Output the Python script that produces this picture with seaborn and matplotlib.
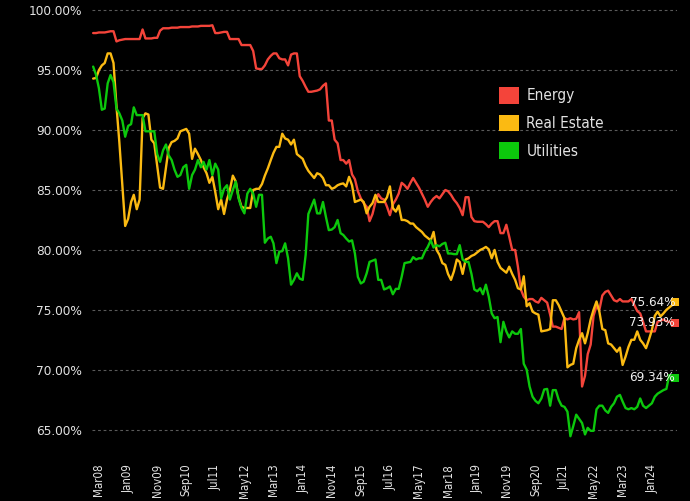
import numpy as np
import pandas as pd
import matplotlib
matplotlib.use("Agg")
import matplotlib.pyplot as plt
import seaborn as sns
from matplotlib.patches import Patch
from matplotlib.ticker import FuncFormatter
from matplotlib import font_manager as fm

# ---------------- data (monthly, Jan 2008 - Sep 2024) ----------------
start_month = "2008-01-01"
sectors = ["Energy", "Real Estate", "Utilities"]
colors = ["#F4443A", "#FBBA12", "#0CC80C"]

energy = [
    98.1, 98.1, 98.15, 98.15, 98.15, 98.2, 98.25, 98.25, 97.4, 97.5,
    97.55, 97.6, 97.6, 97.6, 97.6, 97.6, 97.6, 98.4, 97.65, 97.65,
    97.65, 97.7, 97.7, 98.3, 98.5, 98.5, 98.5, 98.55, 98.55, 98.55,
    98.6, 98.6, 98.6, 98.6, 98.65, 98.65, 98.65, 98.7, 98.7, 98.7,
    98.7, 98.75, 98.1, 98.1, 98.15, 98.2, 98.2, 97.6, 97.6, 97.6,
    97.6, 97.1, 97.1, 97.1, 97.1, 96.6, 95.15, 95.1, 95.1, 95.4,
    95.9, 96.2, 96.4, 96.4, 96.0, 95.9, 95.9, 95.4, 96.3, 96.4,
    96.4, 94.5, 94.1, 93.6, 93.2, 93.2, 93.25, 93.3, 93.4, 93.7,
    93.9, 90.8, 90.8, 89.2, 88.9, 87.5, 87.5, 87.2, 87.5, 86.3,
    85.9, 84.9, 84.3, 83.9, 83.6, 82.4, 83.0, 84.0, 84.65, 84.3,
    84.2, 83.6, 82.9, 83.8, 84.2, 84.7, 85.6, 85.4, 85.1, 85.6,
    86.0, 85.6, 85.2, 84.7, 84.2, 83.6, 84.0, 84.3, 84.5, 84.3,
    84.65, 85.0, 84.9, 84.6, 84.2, 83.9, 83.5, 82.9, 84.4, 84.4,
    82.75, 82.4, 82.35, 82.35, 82.35, 82.15, 81.9, 82.2, 82.4, 82.4,
    81.4, 81.4, 82.1, 81.1, 80.0, 80.0, 78.6, 76.7, 76.1, 75.8,
    75.9, 75.9, 75.7, 75.6, 76.0, 75.8, 75.6, 74.6, 73.6, 73.6,
    73.5, 73.4, 74.3, 74.2, 74.3, 74.2, 74.25, 74.8, 68.6, 69.5,
    71.3, 72.1, 74.5, 75.3, 75.0, 76.2, 76.5, 76.6, 76.2, 75.8,
    75.7, 75.9, 75.7, 75.7, 75.7, 75.9, 75.4, 74.9, 74.7, 74.0,
    73.2, 73.2, 73.2, 73.2, 74.0, 74.1, 74.2, 74.05, 74.0, 73.9, 73.93,
]

real_estate = [
    94.3, 94.35, 95.0, 95.4, 95.6, 96.4, 96.4, 95.6, 92.0, 89.0,
    85.5, 82.0, 82.6, 84.0, 84.6, 83.4, 84.2, 91.0, 91.4, 91.3,
    89.2, 88.9, 87.0, 85.2, 85.1, 86.9, 88.5, 89.0, 89.1, 89.3,
    89.9, 90.0, 90.1, 89.7, 87.6, 88.45, 88.0, 87.5, 86.9, 86.4,
    85.6, 86.1, 84.85, 83.4, 84.2, 83.0, 84.2, 85.0, 86.2, 85.7,
    84.4, 83.6, 83.5, 83.5, 83.5, 85.0, 85.1, 85.1, 85.5, 86.2,
    86.8, 87.5, 88.1, 88.6, 88.6, 89.7, 89.3, 89.2, 88.8, 89.2,
    88.0, 87.8, 87.6, 87.0, 86.6, 86.3, 86.0, 86.4, 86.3, 86.0,
    85.4, 85.4, 85.1, 85.2, 85.4, 85.5, 85.55, 85.3, 86.1, 85.4,
    84.0, 84.1, 84.2, 84.0, 83.05, 83.6, 83.9, 84.6, 84.0, 84.0,
    84.0, 84.4, 85.3, 83.5, 83.2, 83.7, 82.5, 82.5, 82.4, 82.2,
    82.2, 81.9, 81.7, 81.5, 81.2, 81.0, 80.8, 81.5, 80.0, 79.6,
    78.9, 78.75, 78.0, 77.5, 78.2, 79.2, 79.0, 78.0, 79.2, 79.3,
    79.5, 79.6, 79.8, 80.0, 80.1, 80.25, 80.05, 79.3, 80.0, 79.0,
    78.5, 78.3, 78.1, 78.6, 78.0, 77.5, 76.8, 76.7, 77.8, 75.3,
    75.55, 74.85, 74.7, 74.6, 73.2, 73.25, 73.3, 73.4, 75.8, 75.8,
    75.4, 74.85, 74.3, 70.2, 70.4, 70.5, 71.8, 72.5, 73.05, 72.2,
    73.05, 74.2, 75.0, 75.7, 74.85, 73.4, 73.3, 72.2, 72.1, 71.8,
    71.5, 71.85, 70.4, 71.1, 71.9, 72.5, 72.5, 73.2, 72.5, 72.2,
    71.8, 72.5, 73.3, 74.5, 74.85, 74.45, 74.7, 75.0, 75.2, 75.4, 75.64,
]

utilities = [
    95.3, 94.6, 93.5, 91.7, 91.8, 93.9, 94.6, 94.0, 91.8, 91.4,
    90.8, 89.45, 90.35, 90.5, 91.9, 91.25, 91.25, 91.25, 89.9, 89.9,
    89.9, 89.9, 88.0, 87.35, 88.3, 88.8, 87.9, 87.5, 86.7, 86.1,
    86.25, 86.9, 87.1, 85.1, 86.25, 86.7, 87.5, 86.9, 87.35, 86.7,
    87.5, 86.25, 87.2, 86.7, 84.3, 85.1, 85.4, 84.2, 85.0, 85.7,
    84.3, 83.5, 83.05, 84.7, 85.1, 84.7, 83.6, 84.6, 84.6, 80.6,
    80.95, 81.1, 80.55, 78.9, 79.85, 79.9, 80.55, 79.3, 77.1, 77.5,
    78.05, 77.6, 77.5, 79.6, 83.0, 83.6, 84.2, 83.05, 83.05, 84.0,
    82.75, 81.65, 81.7, 81.9, 82.5, 81.4, 81.25, 80.95, 80.7, 80.8,
    79.7, 77.75, 77.2, 77.35, 78.05, 79.0, 79.1, 79.2, 77.5, 77.5,
    76.7, 76.8, 76.95, 76.3, 76.75, 76.75, 77.75, 78.9, 78.95, 79.0,
    79.4, 79.2, 79.3, 79.3, 79.85, 80.25, 80.8, 80.2, 80.4, 80.3,
    80.5, 80.6, 79.7, 79.7, 79.65, 79.65, 80.4, 79.2, 79.0, 79.0,
    78.0, 76.7, 76.55, 76.8, 76.3, 77.1, 76.1, 74.7, 74.3, 74.4,
    72.3, 74.0, 73.2, 72.7, 73.2, 73.0, 73.0, 73.4, 70.5, 70.0,
    68.6, 67.75, 67.4, 67.2, 67.6, 68.35, 68.4, 67.0, 68.3, 68.3,
    67.5, 67.0, 66.9, 66.5, 64.45, 65.3, 66.25, 65.9, 65.55, 64.6,
    65.15, 64.9, 64.9, 66.7, 67.0, 67.0, 66.6, 66.4, 66.9, 67.2,
    67.75, 67.9, 67.35, 66.8, 66.7, 66.8, 66.7, 66.9, 67.6, 67.0,
    66.8, 67.0, 67.2, 67.75, 68.0, 68.15, 68.3, 68.4, 69.55, 69.3, 69.34,
]

y_ticks = [65, 70, 75, 80, 85, 90, 95, 100]
tick_start, tick_end, tick_step = "2008-03-01", "2024-01-01", "10MS"

# ---------------- build table ----------------
series = [energy, real_estate, utilities]
dates = pd.date_range(start_month, periods=len(energy), freq="MS")
df = pd.DataFrame({
    "date": np.concatenate([dates] * 3),
    "value": np.concatenate(series),
    "sector": np.repeat(sectors, len(dates)),
})
palette = dict(zip(sectors, colors))

# ---------------- style ----------------
sns.set_theme(style="dark")
cond = [f for f in fm.fontManager.ttflist
        if f.name == "DejaVu Sans" and str(f.stretch).lower() in ("condensed", "semi-condensed")]
if cond:
    plt.rcParams["font.family"] = ["DejaVu Sans"]
    plt.rcParams["font.stretch"] = "condensed"
else:
    plt.rcParams["font.family"] = ["Liberation Sans", "DejaVu Sans"]

txt_color = "#e2e2e2"
fig = plt.figure(figsize=(6.9, 5.01), dpi=100, facecolor="black")
ax = fig.add_axes([92 / 690, 41.4 / 501, 585 / 690, 455.3 / 501])
ax.set_facecolor("black")

sns.lineplot(data=df, x="date", y="value", hue="sector", palette=palette,
             linewidth=1.7, legend=False, ax=ax, estimator=None)

# end markers and labels
for s, vals in zip(sectors, series):
    ax.scatter([dates[-1]], [vals[-1]], marker="s", s=26, color=palette[s],
               zorder=5, linewidths=0, clip_on=False)
    ax.annotate(f"{vals[-1]:.2f}%", xy=(dates[-1], vals[-1]), xytext=(0, 0),
                textcoords="offset points", ha="right", va="center",
                color="#f0f0f0", fontsize=9.6, zorder=6)

ax.set_ylim(62.5, 100.5)
ax.set_yticks(y_ticks)
ax.yaxis.set_major_formatter(FuncFormatter(lambda v, _: f"{v:.2f}%"))
ax.set_xlim(pd.Timestamp("2007-12-20"), pd.Timestamp("2024-09-20"))
ticks = pd.date_range(tick_start, tick_end, freq=tick_step)
ax.set_xticks(ticks)
ax.set_xticklabels([t.strftime("%b%y") for t in ticks], rotation=90)
ax.set_xlabel("")
ax.set_ylabel("")

ax.grid(False)
ax.yaxis.grid(True, color="#5a5a5a", linestyle=(0, (2.5, 2.5)), linewidth=0.8)
for sp in ax.spines.values():
    sp.set_visible(False)
ax.tick_params(axis="y", length=0, pad=7, labelsize=9.7, labelcolor=txt_color)
ax.tick_params(axis="x", length=0, pad=3, labelsize=8.3, labelcolor=txt_color)

handles = [Patch(facecolor=palette[s], edgecolor="none", label=s) for s in sectors]
leg = fig.legend(handles=handles, loc="upper left",
                 bbox_to_anchor=(499 / 690, 1 - 87 / 501),
                 bbox_transform=fig.transFigure, frameon=False,
                 fontsize=11, handlelength=1.3, handleheight=1.3,
                 handletextpad=0.5, labelspacing=0.72, borderpad=0,
                 borderaxespad=0)
for t in leg.get_texts():
    t.set_color(txt_color)

fig.savefig("out.png", dpi=100, facecolor="black")
